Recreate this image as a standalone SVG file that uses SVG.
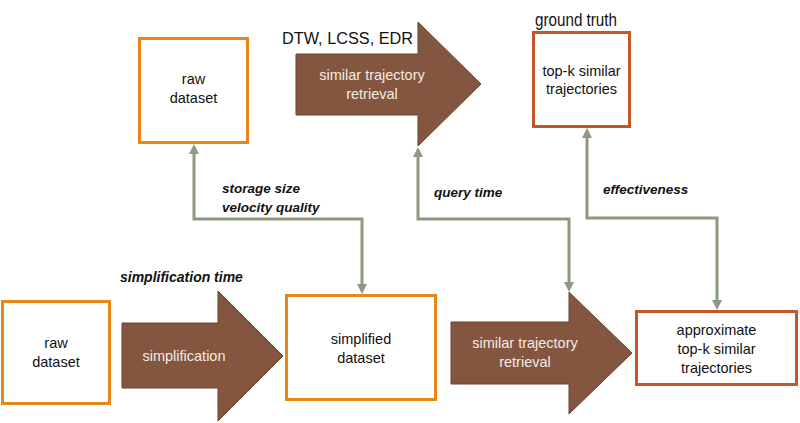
<svg xmlns="http://www.w3.org/2000/svg" width="800" height="423" viewBox="0 0 800 423">
<defs>
<style>
.t{font-family:"Liberation Sans",Arial,sans-serif;font-size:14.5px;fill:#111;text-anchor:middle}
.w{font-family:"Liberation Sans",Arial,sans-serif;font-size:14.5px;fill:#f3ebe4;text-anchor:middle}
.lb{font-family:"Liberation Sans",Arial,sans-serif;font-size:13.5px;font-weight:bold;font-style:italic;fill:#111}
.big{font-family:"Liberation Sans",Arial,sans-serif;font-size:16.8px;fill:#111}
.ob{fill:#fff;stroke:#e8861a;stroke-width:3}
.rb{fill:#fff;stroke:#c4562a;stroke-width:3}
.ar{fill:#845640;stroke:#6a4330;stroke-width:1}
.cn{fill:none;stroke:#8c9b7e;stroke-width:3}
</style>
<marker id="ah" viewBox="0 0 10 10" refX="4" refY="5" markerWidth="10" markerHeight="10" markerUnits="userSpaceOnUse" orient="auto-start-reverse">
<path d="M0,0 L10,5 L0,10 z" fill="#8c9b7e"/>
</marker>
</defs>
<rect width="800" height="423" fill="#fff"/>

<g id="raw-top">
<rect class="ob" x="139.5" y="38.5" width="108" height="104"/>
<text class="t" x="193.5" y="84">raw</text>
<text class="t" x="193.5" y="103">dataset</text>
</g>

<g id="retrieval-top">
<polygon class="ar" points="296,54 418,54 418,22 481,84 418,146 418,115 296,115"/>
<text class="w" x="372" y="80">similar trajectory</text>
<text class="w" x="372" y="99">retrieval</text>
<text class="big" x="282" y="44" textLength="131" lengthAdjust="spacingAndGlyphs">DTW, LCSS, EDR</text>
</g>

<g id="ground-truth">
<rect class="rb" x="533.5" y="32.5" width="96" height="94"/>
<text class="t" x="581.5" y="76">top-k similar</text>
<text class="t" x="581.5" y="94">trajectories</text>
<text class="big" x="535" y="26" style="font-size:18px" textLength="82" lengthAdjust="spacingAndGlyphs">ground truth</text>
</g>

<g id="raw-bottom">
<rect class="ob" x="2.5" y="301.5" width="107" height="102"/>
<text class="t" x="56" y="348">raw</text>
<text class="t" x="56" y="367">dataset</text>
</g>

<g id="simplification">
<polygon class="ar" points="122,323 218,323 218,291 283,356 218,421 218,388 122,388"/>
<text class="w" x="184" y="361">simplification</text>
<text class="lb" x="120" y="282" style="font-size:14px">simplification time</text>
</g>

<g id="simplified">
<rect class="ob" x="286.5" y="295.5" width="149" height="104"/>
<text class="t" x="361" y="344">simplified</text>
<text class="t" x="361" y="363">dataset</text>
</g>

<g id="retrieval-bottom">
<polygon class="ar" points="451,322 569,322 569,292 632,353 569,414 569,384 451,384"/>
<text class="w" x="525" y="348">similar trajectory</text>
<text class="w" x="525" y="367">retrieval</text>
</g>

<g id="approx">
<rect class="rb" x="636.5" y="311.5" width="160" height="73"/>
<text class="t" x="716.5" y="335">approximate</text>
<text class="t" x="716.5" y="354">top-k similar</text>
<text class="t" x="716.5" y="373">trajectories</text>
</g>

<g id="connectors">
<path class="cn" d="M194,150 V219 H362 V288" marker-start="url(#ah)" marker-end="url(#ah)"/>
<path class="cn" d="M418,153 V219 H569 V286" marker-start="url(#ah)" marker-end="url(#ah)"/>
<path class="cn" d="M587,134 V218 H717 V304" marker-start="url(#ah)" marker-end="url(#ah)"/>
<text class="lb" x="222" y="193">storage size</text>
<text class="lb" x="222" y="212">velocity quality</text>
<text class="lb" x="434" y="197">query time</text>
<text class="lb" x="603" y="194">effectiveness</text>
</g>
</svg>
